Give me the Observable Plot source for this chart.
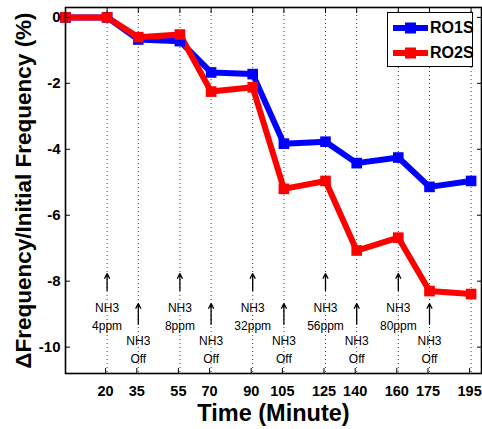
<!DOCTYPE html>
<html>
<head>
<meta charset="utf-8">
<script src="https://cdn.jsdelivr.net/npm/d3@7"></script>
<script src="https://cdn.jsdelivr.net/npm/@observablehq/plot@0.6"></script>
<style>
  body { margin: 0; background: #fff; }
  #chart { position: relative; width: 482px; height: 429px; font-family: "Liberation Sans", Arial, sans-serif; }
  #chart svg { display: block; }
  .legend { position: absolute; left: 387px; top: 12px; width: 86px; height: 55px; border: 1.5px solid #000; background: #fff; box-sizing: border-box; }
  .legend .row { position: absolute; left: 5px; height: 20px; display: flex; align-items: center; }
  .legend .row span { font-weight: bold; font-size: 16px; margin-left: 2px; color: #000; }
</style>
</head>
<body>
<div id="chart"></div>
<script>
// Sampling times (minutes) and relative frequency shift (%) for the two sensors
const times = [0, 20, 35, 55, 70, 90, 105, 125, 140, 160, 175, 195];
const ro1s = [0, 0, -0.67, -0.72, -1.67, -1.72, -3.83, -3.77, -4.42, -4.25, -5.14, -4.96];
const ro2s = [0, 0, -0.60, -0.52, -2.25, -2.12, -5.20, -4.96, -7.07, -6.68, -8.30, -8.39];
const seriesNames = ["RO1S", "RO2S"];
const seriesColors = ["#0000ff", "#ff0000"];

// Axis ticks
const xTicks = [20, 35, 55, 70, 90, 105, 125, 140, 160, 175, 195];
const yTicks = [-10, -8, -6, -4, -2, 0];

// NH3 exposure events
const onTimes = [20, 55, 90, 125, 160];
const onLabels = ["4ppm", "8ppm", "32ppm", "56ppm", "80ppm"];
const offTimes = [35, 70, 105, 140, 175];

const rows = [
  ...times.map((t, i) => ({t, v: ro1s[i], s: seriesNames[0]})),
  ...times.map((t, i) => ({t, v: ro2s[i], s: seriesNames[1]}))
];
const onEvents = onTimes.map((t, i) => ({t, text: "NH3\n" + onLabels[i]}));
const offEvents = offTimes.map(t => ({t, text: "NH3\nOff"}));

// vertical placement of the event annotations (in % units)
const onArrow = [-8.28, -7.77], onText = -9.04;
const offArrow = [-9.31, -8.68], offText = -10.03;

const font = "'Liberation Sans', Arial, sans-serif";
const colorOf = s => seriesColors[seriesNames.indexOf(s)];

const chart = Plot.plot({
  width: 482,
  height: 429,
  marginLeft: 65,
  marginRight: 1,
  marginTop: 7,
  marginBottom: 56,
  style: {fontFamily: font, background: "#fff", color: "#000", overflow: "visible"},
  x: {domain: [0, 200]},
  y: {domain: [-10.8, 0.3]},
  marks: [
    Plot.ruleX(xTicks, {stroke: "#000", strokeOpacity: 0.75, strokeDasharray: "1,3", strokeWidth: 1}),
    ...seriesNames.map(name => Plot.line(rows.filter(d => d.s === name), {
      x: "t", y: "v", stroke: colorOf(name), strokeWidth: 6, strokeLinejoin: "round"
    })),
    ...seriesNames.map(name => Plot.dot(rows.filter(d => d.s === name), {
      x: "t", y: "v", symbol: "square", r: 6, fill: colorOf(name), stroke: null
    })),
    Plot.arrow(onEvents, {x1: "t", x2: "t", y1: () => onArrow[0], y2: () => onArrow[1], stroke: "#000", strokeWidth: 1.3, headLength: 6, headAngle: 55}),
    Plot.arrow(offEvents, {x1: "t", x2: "t", y1: () => offArrow[0], y2: () => offArrow[1], stroke: "#000", strokeWidth: 1.3, headLength: 6, headAngle: 55}),
    Plot.text(onEvents, {x: "t", y: () => onText, text: "text", fontSize: 12, lineHeight: 1.5, fill: "#000"}),
    Plot.text(offEvents, {x: "t", y: () => offText, text: "text", fontSize: 12, lineHeight: 1.55, fill: "#000"}),
    Plot.frame({stroke: "#000", strokeWidth: 1.6}),
    Plot.axisX(xTicks, {anchor: "bottom", tickSize: -5, tickPadding: 17, dx: -1.5, tickFormat: d => String(d), fontSize: 14.5, fontWeight: "bold", label: null}),
    Plot.axisX(xTicks, {anchor: "top", tickSize: -5, tickFormat: () => "", label: null}),
    Plot.axisY(yTicks, {anchor: "left", tickSize: -5, tickPadding: 10, tickFormat: d => String(d), fontSize: 15, fontWeight: "bold", label: null}),
    Plot.axisY(yTicks, {anchor: "right", tickSize: -5, tickFormat: () => "", label: null}),
    Plot.text(["ΔFrequency/Initial Frequency (%)"], {frameAnchor: "left", dx: -42, rotate: -90, textAnchor: "middle", lineAnchor: "middle", fontSize: 22.5, fontWeight: "bold", fill: "#000"}),
    Plot.text(["Time (Minute)"], {frameAnchor: "bottom", dy: 40, textAnchor: "middle", lineAnchor: "middle", fontSize: 23.5, fontWeight: "bold", fill: "#000"})
  ]
});

const root = document.getElementById("chart");
root.appendChild(chart);

// legend box with line + square marker swatches
const legend = document.createElement("div");
legend.className = "legend";
seriesNames.forEach((name, i) => {
  const row = document.createElement("div");
  row.className = "row";
  row.style.top = (i === 0 ? 5 : 30) + "px";
  row.innerHTML = `<svg width="35" height="14"><line x1="0" x2="35" y1="7" y2="7" stroke="${seriesColors[i]}" stroke-width="6"/><rect x="12" y="1.5" width="11" height="11" fill="${seriesColors[i]}"/></svg><span>${name}</span>`;
  legend.appendChild(row);
});
root.appendChild(legend);
</script>
</body>
</html>
